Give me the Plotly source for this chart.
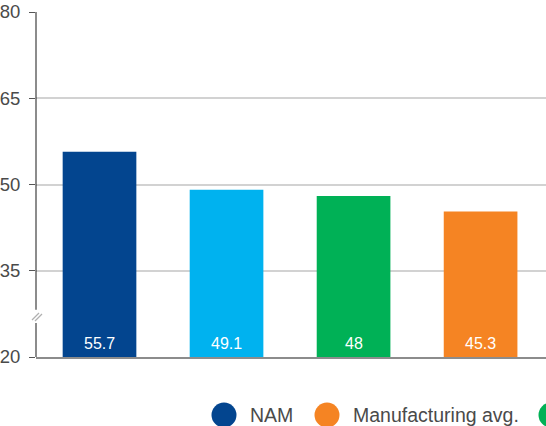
import plotly.graph_objects as go

# Chart data
categories = ["NAM", "Group 2", "Group 3", "Manufacturing avg."]
values = [55.7, 49.1, 48.0, 45.3]
bar_colors = ["#03458f", "#00b2ef", "#00b156", "#f58423"]
y_ticks = [20, 35, 50, 65, 80]
legend_names = ["NAM", "Manufacturing avg.", ""]
legend_colors = ["#03458f", "#f58423", "#00b156"]

W, H = 546, 426
ML, MR, MT, MB = 36, 0, 12, 69
PW, PH = W - ML - MR, H - MT - MB
Y_MIN, Y_MAX = 20, 80

AXIS_COLOR = "rgba(0,0,0,0.45)"
TEXT_COLOR = "#4a4a4a"
FONT = "Liberation Sans, Arial, Helvetica, sans-serif"


def px_x(x):
    return (x - ML) / PW


def px_y(y):
    return (MT + PH - y) / PH


fig = go.Figure()
fig.add_trace(go.Bar(
    x=categories, y=values,
    marker=dict(color=bar_colors, line=dict(width=0)),
    hoverinfo="x+y", showlegend=False,
))

annotations = []
# value labels at the foot of each bar
for c, v in zip(categories, values):
    annotations.append(dict(
        x=c, y=Y_MIN, xref="x", yref="y", text=f"{v:g}",
        showarrow=False, yanchor="bottom", xanchor="center", yshift=3,
        font=dict(family=FONT, size=16, color="white"),
    ))

shapes = []
# y axis line, broken near the bottom
brk_lo, brk_hi = 25.9, 28.2
for y0, y1 in [(Y_MIN, brk_lo), (brk_hi, Y_MAX)]:
    shapes.append(dict(type="line", xref="paper", yref="y", x0=0, x1=0,
                       y0=y0, y1=y1, line=dict(color=AXIS_COLOR, width=2)))
brk_mid = (brk_lo + brk_hi) / 2
for dx0, dy0, dx1, dy1 in [(-4, -3.5, 3, 3.5), (-1, -4.5, 6, 2.5)]:
    shapes.append(dict(type="line", xref="paper", yref="y",
                       xsizemode="pixel", ysizemode="pixel",
                       xanchor=0, yanchor=brk_mid,
                       x0=dx0, x1=dx1, y0=dy0, y1=dy1,
                       line=dict(color="#b0b0b0", width=1.2)))

# legend: circles with labels below the plot
leg_y = 415
leg_items = [(224, 248), (327, 351), (551, 575)]
for (cx, tx), name, col in zip(leg_items, legend_names, legend_colors):
    shapes.append(dict(type="circle", xref="paper", yref="paper",
                       xsizemode="pixel", ysizemode="pixel",
                       xanchor=px_x(cx), yanchor=px_y(leg_y),
                       x0=-12.5, x1=12.5, y0=-12.5, y1=12.5,
                       fillcolor=col, line=dict(width=0)))
    if name:
        annotations.append(dict(
            x=px_x(tx), y=px_y(leg_y), xref="paper", yref="paper",
            text=name, showarrow=False, xanchor="left", yanchor="middle",
            font=dict(family=FONT, size=19.5, color=TEXT_COLOR),
        ))

fig.update_layout(
    width=W, height=H,
    margin=dict(l=ML, r=MR, t=MT, b=MB, autoexpand=False),
    paper_bgcolor="white", plot_bgcolor="white",
    bargap=0.42,
    showlegend=False,
    font=dict(family=FONT, color=TEXT_COLOR),
    xaxis=dict(range=[-0.5, 3.515], showticklabels=False, ticks="",
               showgrid=False, showline=True, linecolor=AXIS_COLOR,
               linewidth=2, zeroline=False, fixedrange=True),
    yaxis=dict(range=[Y_MIN, Y_MAX], tickvals=y_ticks, showline=False,
               ticks="outside", ticklen=6, tickwidth=1, tickcolor="#555",
               ticklabelstandoff=5,
               tickfont=dict(family=FONT, size=18.5, color=TEXT_COLOR),
               showgrid=True, gridcolor="#d2d2d2", gridwidth=1.5,
               zeroline=False, automargin=False, fixedrange=True),
    shapes=shapes,
    annotations=annotations,
)

fig.write_html("out.html", config={"displayModeBar": False})
